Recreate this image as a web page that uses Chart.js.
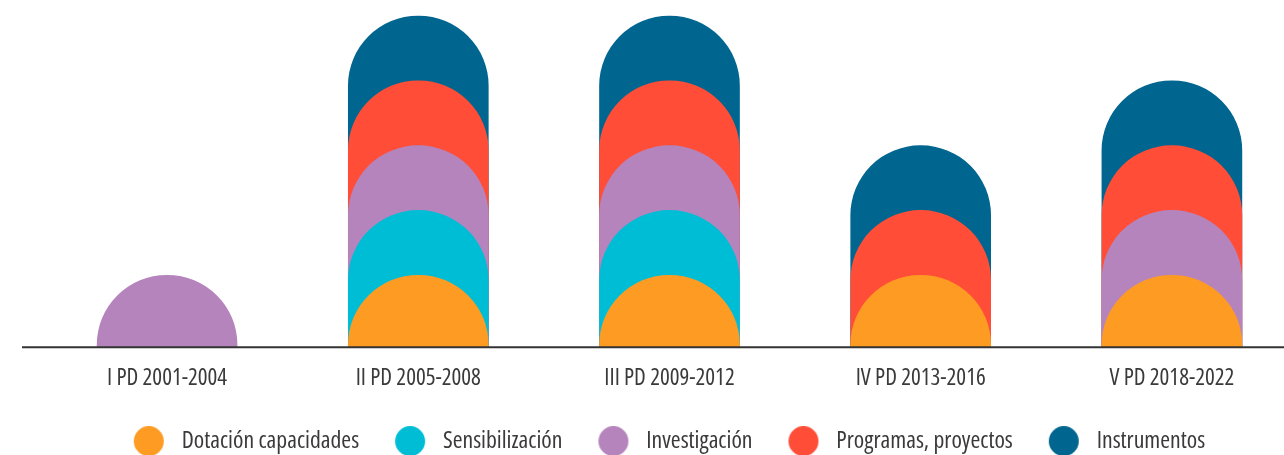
<!DOCTYPE html>
<html>
<head>
<meta charset="utf-8">
<script src="https://cdn.jsdelivr.net/npm/chart.js@4"></script>
<style>
  html, body { margin: 0; padding: 0; background: #fff; overflow: hidden; }
  canvas { display: block; }
</style>
</head>
<body>
<canvas id="chart" width="1339" height="463"></canvas>
<script>
// periods (x categories)
const categories = ["I PD 2001-2004", "II PD 2005-2008", "III PD 2009-2012", "IV PD 2013-2016", "V PD 2018-2022"];

// 1 = line of action present in that period
const dotacion = [0, 1, 1, 1, 1];
const sensibilizacion = [0, 1, 1, 0, 0];
const investigacion = [1, 1, 1, 0, 1];
const programas = [0, 1, 1, 1, 1];
const instrumentos = [0, 1, 1, 1, 1];

const seriesNames = ["Dotación capacidades", "Sensibilización", "Investigación", "Programas, proyectos", "Instrumentos"];
const seriesValues = [dotacion, sensibilizacion, investigacion, programas, instrumentos];
const colors = ["#FE9B23", "#00BDD6", "#B584BC", "#FF4D37", "#01668F"];

const FONT = "'Open Sans', sans-serif";
const TEXT = "#3a3a3a";

// running totals so each dome sits on top of the ones below
const totals = categories.map(() => 0);
const datasets = seriesValues.map((vals, s) => {
  const data = vals.map((v, i) => {
    if (!v) return null;
    totals[i] += v;
    return totals[i];
  });
  return {
    label: seriesNames[s],
    data: data,
    backgroundColor: colors[s],
    borderWidth: 0,
    borderRadius: { topLeft: 70, topRight: 70, bottomLeft: 0, bottomRight: 0 },
    base: -2,
    clip: 0,
    barThickness: 140,
    grouped: false
  };
});

// round legend markers, set a bit right of centre to leave room before the text
function dot(color) {
  const c = document.createElement("canvas");
  c.width = 42;
  c.height = 30;
  const g = c.getContext("2d");
  g.fillStyle = color;
  g.beginPath();
  g.arc(26, 15, 15, 0, Math.PI * 2);
  g.fill();
  return c;
}
const dots = colors.map(dot);

const axisLine = {
  id: "axisLine",
  afterDatasetsDraw(chart) {
    const ctx = chart.ctx;
    const y = chart.chartArea.bottom;
    ctx.save();
    ctx.strokeStyle = "#333333";
    ctx.lineWidth = 2;
    ctx.beginPath();
    ctx.moveTo(22, y);
    ctx.lineTo(chart.width, y);
    ctx.stroke();
    ctx.restore();
  }
};

new Chart(document.getElementById("chart"), {
  type: "bar",
  data: { labels: categories, datasets: datasets },
  options: {
    responsive: false,
    animation: false,
    devicePixelRatio: 1,
    layout: { padding: { left: 25.5, right: 41.5, top: 10, bottom: 0 } },
    scales: {
      x: {
        grid: { display: false, drawTicks: false },
        border: { display: false },
        ticks: {
          color: TEXT,
          padding: 26,
          font: { family: FONT, size: 23, weight: "condensed", lineHeight: "10px" }
        }
      },
      y: {
        min: -0.112,
        max: 5.093,
        grid: { display: false, drawTicks: false },
        border: { display: false },
        ticks: { display: false },
        // empty strip so the legend sits a little left of the plot centre
        afterFit(scale) { scale.width = 16; }
      }
    },
    plugins: {
      tooltip: { enabled: false },
      legend: {
        position: "bottom",
        labels: {
          usePointStyle: true,
          pointStyleWidth: 52,
          padding: 20,
          color: TEXT,
          font: { family: FONT, size: 23.7, weight: "condensed" },
          generateLabels(chart) {
            const items = Chart.defaults.plugins.legend.labels.generateLabels(chart);
            items.forEach((it, i) => { it.pointStyle = dots[i]; });
            return items;
          }
        }
      }
    }
  },
  plugins: [axisLine]
});
</script>
</body>
</html>
